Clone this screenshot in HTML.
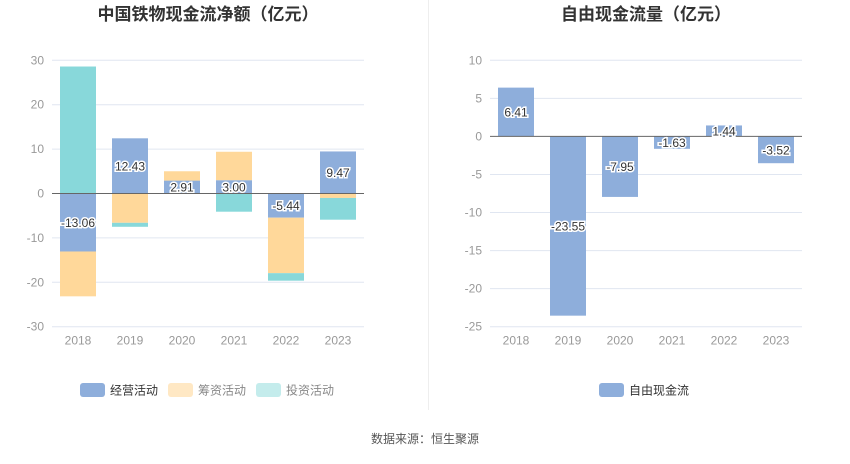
<!DOCTYPE html>
<html><head><meta charset="utf-8">
<style>
html,body{margin:0;padding:0;background:#fff;}
body{width:850px;height:459px;overflow:hidden;font-family:"Liberation Sans","Noto Sans CJK SC",sans-serif;}
svg text{font-family:"Liberation Sans","Noto Sans CJK SC",sans-serif;}
</style></head>
<body>
<svg id="c" width="850" height="459" xmlns="http://www.w3.org/2000/svg">
<text x="208" y="20" text-anchor="middle" font-size="17" font-weight="bold" fill="#333">中国铁物现金流净额（亿元）</text>
<text x="646" y="20" text-anchor="middle" font-size="17" font-weight="bold" fill="#333">自由现金流量（亿元）</text>
<line x1="428.5" y1="0" x2="428.5" y2="410" stroke="#eee"/>
<text x="425" y="443" text-anchor="middle" font-size="12" fill="#555">数据来源：恒生聚源</text>
<g>
<rect x="80" y="383" width="25" height="14" rx="3" fill="#8eaedb"/>
<text x="110" y="394.5" font-size="12" fill="#333">经营活动</text>
<rect x="168" y="383" width="25" height="14" rx="3" fill="#ffe8c4"/>
<text x="198" y="394.5" font-size="12" fill="#888">筹资活动</text>
<rect x="256" y="383" width="25" height="14" rx="3" fill="#c4ecec"/>
<text x="286" y="394.5" font-size="12" fill="#888">投资活动</text>
</g>
<g>
<rect x="599" y="383" width="25" height="14" rx="3" fill="#8eaedb"/>
<text x="629" y="394.5" font-size="12" fill="#333">自由现金流</text>
</g>
</svg>
<script>
const years = ['2018','2019','2020','2021','2022','2023'];
const operating = [-13.06, 12.43, 2.91, 3.00, -5.44, 9.47];
const financing = [-10.1, -6.6, 2.1, 6.4, -12.5, -1.0];
const investing = [28.6, -0.9, 0, -4.1, -1.7, -4.9];
const leftTicks = [30, 20, 10, 0, -10, -20, -30];
const fcf = [6.41, -23.55, -7.95, -1.63, 1.44, -3.52];
const rightTicks = [10, 5, 0, -5, -10, -15, -20, -25];

const NS = 'http://www.w3.org/2000/svg';
const svg = document.getElementById('c');
function mk(tag, attrs, parent){const e=document.createElementNS(NS,tag);for(const k in attrs)e.setAttribute(k,attrs[k]);(parent||svg).appendChild(e);return e;}

function axes(x0,x1,yTop,yBot,maxV,minV,ticks,name){
  const y = v => yTop + (maxV - v) / (maxV - minV) * (yBot - yTop);
  const band = (x1 - x0) / years.length;
  const xc = i => x0 + band * (i + 0.5);
  const g = mk('g', {});
  
  
  ticks.forEach(t => {
    if (t !== 0) {
      const l = mk('line', {x1:x0, x2:x1, y1:y(t), y2:y(t), stroke:'#e0e6f1'}, g);
      
      
    }
    const tx = mk('text', {x:x0-8, y:y(t)+4, 'text-anchor':'end', 'font-size':12, fill:'#999'}, g);
    tx.textContent = t;
    
    
  });
  years.forEach((yr, i) => {
    const tx = mk('text', {x:xc(i), y:yBot+18, 'text-anchor':'middle', 'font-size':12, fill:'#999'}, g);
    tx.textContent = yr;
    
    
  });
  return {y, xc, band};
}
function bar(x, w, ya, yb, fill, name){
  const r = mk('rect', {x:x, y:Math.min(ya,yb), width:w, height:Math.abs(yb-ya), fill:fill});
  
  
  return r;
}
function label(x, yy, txt){
  const t = mk('text', {x:x, y:yy+4.5, 'text-anchor':'middle', 'font-size':12, fill:'#333', stroke:'#fff', 'stroke-width':3, 'paint-order':'stroke'});
  t.textContent = txt;
  
  
}

// Left stacked chart
const L = axes(52, 364, 60.3, 326.7, 30, -30, leftTicks, 'left');
const bw = 36;
years.forEach((yr, i) => {
  let pos = 0, neg = 0;
  const x = L.xc(i) - bw/2;
  [[operating,'#8eaedb','bar-operating-'],[financing,'#ffd89a','bar-financing-'],[investing,'#88d8da','bar-investing-']].forEach(([arr, col, nm]) => {
    const v = arr[i];
    if (v === 0) return;
    if (v > 0) { bar(x, bw, L.y(pos), L.y(pos+v), col, nm+yr); pos += v; }
    else { bar(x, bw, L.y(neg), L.y(neg+v), col, nm+yr); neg += v; }
  });
});
const z1 = mk('line', {x1:52, x2:364, y1:L.y(0), y2:L.y(0), stroke:'#666'});


years.forEach((yr, i) => label(L.xc(i), L.y(operating[i]/2), operating[i].toFixed(2)));

// Right chart
const R = axes(490, 802, 60.3, 326.7, 10, -25, rightTicks, 'right');
years.forEach((yr, i) => bar(R.xc(i) - bw/2, bw, R.y(0), R.y(fcf[i]), '#8eaedb', 'bar-fcf-' + yr));
const z2 = mk('line', {x1:490, x2:802, y1:R.y(0), y2:R.y(0), stroke:'#666'});


years.forEach((yr, i) => label(R.xc(i), R.y(fcf[i]/2), fcf[i].toFixed(2)));
</script>
</body></html>
